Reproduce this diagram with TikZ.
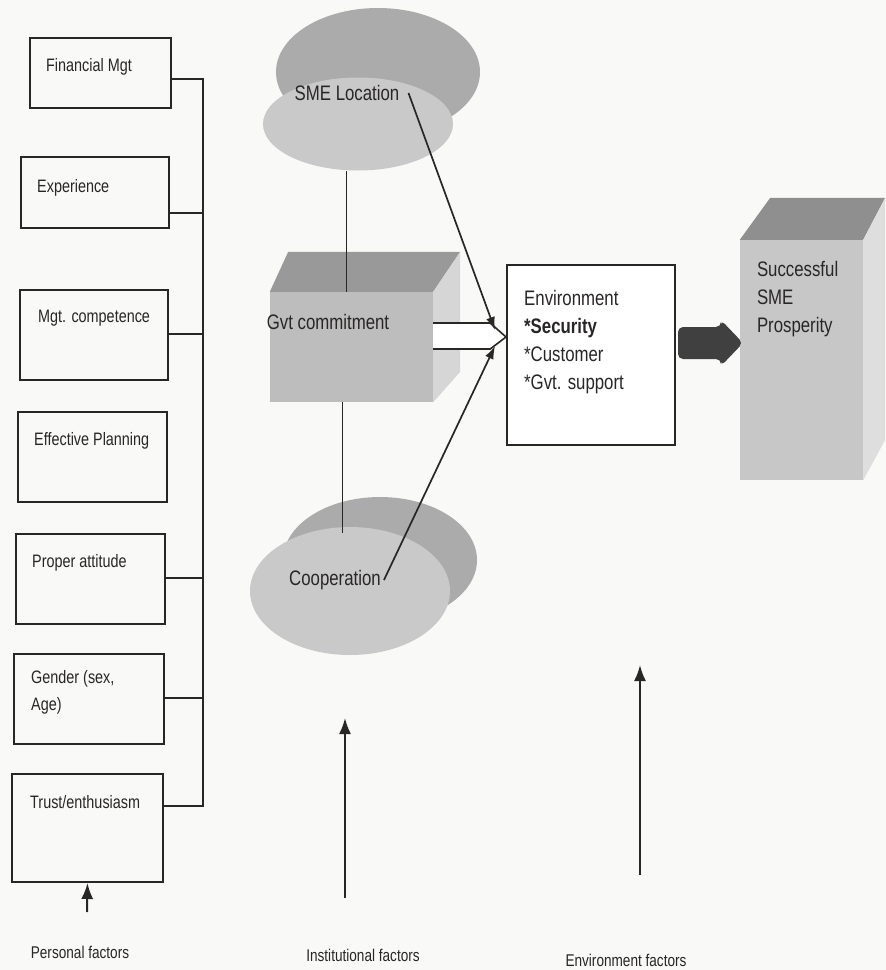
\documentclass[tikz,border=0pt]{standalone}
\usepackage{fontspec}
\setmainfont{Liberation Sans}[FakeStretch=0.8]
\usetikzlibrary{shapes, arrows.meta, calc, positioning}
\definecolor{paper}{rgb}{0.975, 0.975, 0.968}
\definecolor{inkgrey}{rgb}{0.16, 0.15, 0.15}
\definecolor{discdark}{rgb}{0.67, 0.67, 0.67}
\definecolor{disclight}{rgb}{0.79, 0.79, 0.79}
\definecolor{cubefront}{rgb}{0.74, 0.74, 0.74}
\definecolor{cubetop}{rgb}{0.60, 0.60, 0.60}
\definecolor{cubeside}{rgb}{0.84, 0.84, 0.84}
\tikzset{factorbox/.style={draw=inkgrey, line width=2pt, inner sep=0pt}}
\tikzset{factortext/.style={anchor=north west, inner sep=0pt, text=inkgrey, align=left, font=\fontsize{18}{27}\selectfont}}
\tikzset{bigtext/.style={inner sep=0pt, text=inkgrey, align=left, font=\fontsize{21}{28}\selectfont}}
\tikzset{basetext/.style={inner sep=0pt, text=inkgrey, font=\fontsize{17}{20}\selectfont}}
\tikzset{link/.style={draw=inkgrey, line width=2pt}}
\tikzset{feed/.style={link, line width=1.7pt, -{Latex[length=13pt, width=9pt]}}}
\tikzset{rise/.style={link, -{Latex[length=16pt, width=12pt]}}}
\tikzset{disc/.style={ellipse, fill=disclight, inner sep=0pt}}

\begin{document}
\begin{tikzpicture}[x=1pt, y=-1pt]
    \useasboundingbox[fill=paper] (0,0) rectangle (886,970);

    % personal factors
    \node[factorbox, minimum width=141pt, minimum height=70pt]  (F1) at (100.5,73)  {};
    \node[factorbox, minimum width=148pt, minimum height=71pt]  (F2) at (95,192.5)  {};
    \node[factorbox, minimum width=148pt, minimum height=90pt]  (F3) at (94,335)    {};
    \node[factorbox, minimum width=149pt, minimum height=90pt]  (F4) at (92.5,457)  {};
    \node[factorbox, minimum width=149pt, minimum height=90pt]  (F5) at (90.5,579)  {};
    \node[factorbox, minimum width=150pt, minimum height=90pt]  (F6) at (89,699)    {};
    \node[factorbox, minimum width=151pt, minimum height=108pt] (F7) at (87.5,828)  {};
    \node[factortext, below right=21pt and 17pt of F1.north west] (F1t) {Financial Mgt};
    \node[factortext, below right=23pt and 17pt of F2.north west] (F2t) {Experience};
    \node[factortext, below right=21pt and 19pt of F3.north west] (F3t) {Mgt. competence};
    \node[factortext, below right=21pt and 17pt of F4.north west] (F4t) {Effective Planning};
    \node[factortext, below right=21pt and 17pt of F5.north west] (F5t) {Proper attitude};
    \node[factortext, below right=17pt and 18pt of F6.north west] (F6t) {Gender (sex,\\Age)};
    \node[factortext, below right=22pt and 19pt of F7.north west] (F7t) {Trust/enthusiasm};

    \coordinate (busT) at (203,79);
    \coordinate (busB) at (203,806);
    \draw[link] ([yshift=-6pt]F1.east) coordinate (e1) -- (e1 -| busT) -- (busB) -- (busB -| F7.east);
    \foreach \b/\s in {F2/-20, F3/1, F5/1, F6/1}{
        \draw[link] ([yshift=\s pt]\b.east) coordinate (e\b) -- (e\b -| busT);
    }

    % institutional factors
    \fill[discdark] (378,72) ellipse [x radius=102, y radius=64];
    \node[disc, minimum width=190pt, minimum height=93pt] (loc) at (358,124) {};
    \node[bigtext] (loct) at (347,93) {SME Location};

    \node[fill=cubefront, minimum width=163pt, minimum height=110pt, inner sep=0pt] (gvt) at (351.5,347) {};
    \fill[cubetop] (gvt.north west) -- (gvt.north east) -- ++(27,-40) -- ++(-172,0) -- cycle;
    \fill[cubeside] (gvt.north east) -- ++(27,-40) -- ++(0,120) -- (gvt.south east) -- cycle;
    \node[bigtext] (gvtt) at (328,322) {Gvt commitment};

    \fill[discdark] (380,560) ellipse [x radius=97, y radius=63];
    \node[disc, minimum width=200pt, minimum height=128pt] (coop) at (350,591) {};
    \node[bigtext] (coopt) at (335,580) {Cooperation};

    \draw[link, line width=1.6pt] ([xshift=-5pt]gvt.north) coordinate (g1) -- (g1 |- loc.south);
    \draw[link, line width=1.6pt] ([xshift=-9pt]gvt.south) coordinate (g2) -- ([yshift=-6pt]g2 |- coop.north);

    % environment
    \node[factorbox, fill=white, minimum width=168pt, minimum height=180pt] (env) at (591,355) {};
    \node[bigtext, anchor=north west, below right=26pt and 18pt of env.north west] (envt)
        {Environment\\\textbf{*Security}\\*Customer\\*Gvt. support};
    \coordinate (envin) at ([yshift=18pt]env.west);

    \draw[link, fill=white, line width=1.6pt] ([yshift=24pt]gvt.east) -- ++(57,0) -- (envin)
        -- ([shift={(57pt,-2pt)}]gvt.east) -- ([yshift=-2pt]gvt.east);
    \draw[feed] ([xshift=9pt]loct.east) -- ($(envin)+(-11,-7)$);
    \draw[feed] ([xshift=3pt]coopt.east) -- ($(envin)+(-11,9)$);

    % outcome
    \node[fill=cubefront!85!white, minimum width=123pt, minimum height=240pt, inner sep=0pt] (pros) at (801.5,360) {};
    \fill[cubetop!110] (pros.north west) -- (pros.north east) -- ++(22,-42) -- ++(-115,0) -- cycle;
    \fill[cubeside!80!white] (pros.north east) -- ++(22,-42) -- ++(0,242) -- (pros.south east) -- cycle;
    \node[bigtext, anchor=north west, below right=21pt and 17pt of pros.north west] (prost)
        {Successful\\SME\\Prosperity};

    \coordinate (fa) at ([shift={(2pt,12pt)}]env.east);
    \shade[top color=black!75, middle color=black!30, bottom color=black!75, rounded corners=5pt]
        ($(fa)+(0,-16)$) -- ($(fa)+(43,-16)$) -- ($(fa)+(43,-23)$) -- ($(fa)+(65,0)$)
        -- ($(fa)+(43,23)$) -- ($(fa)+(43,16)$) -- ($(fa)+(0,16)$) -- cycle;

    % factor groups
    \node[basetext] (perl) at (80,952) {Personal factors};
    \node[basetext] (insl) at (363,955) {Institutional factors};
    \node[basetext] (envl) at (626,960) {Environment factors};
    \coordinate (perb) at (87,912);
    \coordinate (insb) at (345,898);
    \coordinate (inst) at (345,718);
    \coordinate (envb) at (640,875);
    \coordinate (envu) at (640,665);
    \draw[rise] (perb) -- (F7.south);
    \draw[rise] (insb) -- (inst);
    \draw[rise] (envb) -- (envu);

\end{tikzpicture}
\end{document}
